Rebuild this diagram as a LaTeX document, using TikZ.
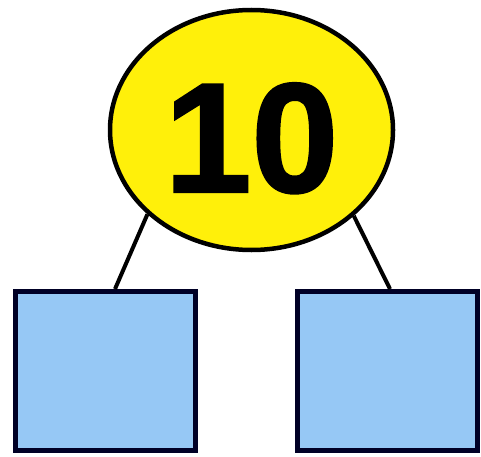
\documentclass[tikz,border=0pt]{standalone}
\usepackage{fontspec}
\setmainfont{Liberation Sans}
\newfontfamily\heavyfont[FakeBold=1.5]{Liberation Sans Bold}
\usepackage{tikz}
\usetikzlibrary{positioning,calc,shapes.geometric}
\definecolor{tenyellow}{RGB}{255,240,10}
\definecolor{partblue}{RGB}{150,200,245}

\begin{document}
\begin{tikzpicture}[x=1pt,y=1pt,
  whole/.style={ellipse,draw=black,line width=4.5pt,fill=tenyellow,inner sep=0pt,
    minimum width=283pt,minimum height=240pt,text height=124pt,text depth=0pt,
    font=\heavyfont\fontsize{156}{156}\selectfont},
  part/.style={rectangle,draw=black!85!blue,line width=5pt,fill=partblue,
    minimum width=180pt,minimum height=159pt,inner sep=0pt},
  link/.style={line width=4pt}]
  \useasboundingbox (0,0) rectangle (481,456);
  % number bond
  \node[whole] (ten) at (251.5,326) {10};
  \node[part] (left) at (105.5,85) {};
  \node[part] (right) at (387.5,85) {};
  \draw[link] (ten.219) -- ($(left.north)+(9.5pt,0)$);
  \draw[link] (ten.320) -- ($(right.north)+(2.5pt,0)$);
\end{tikzpicture}
\end{document}
